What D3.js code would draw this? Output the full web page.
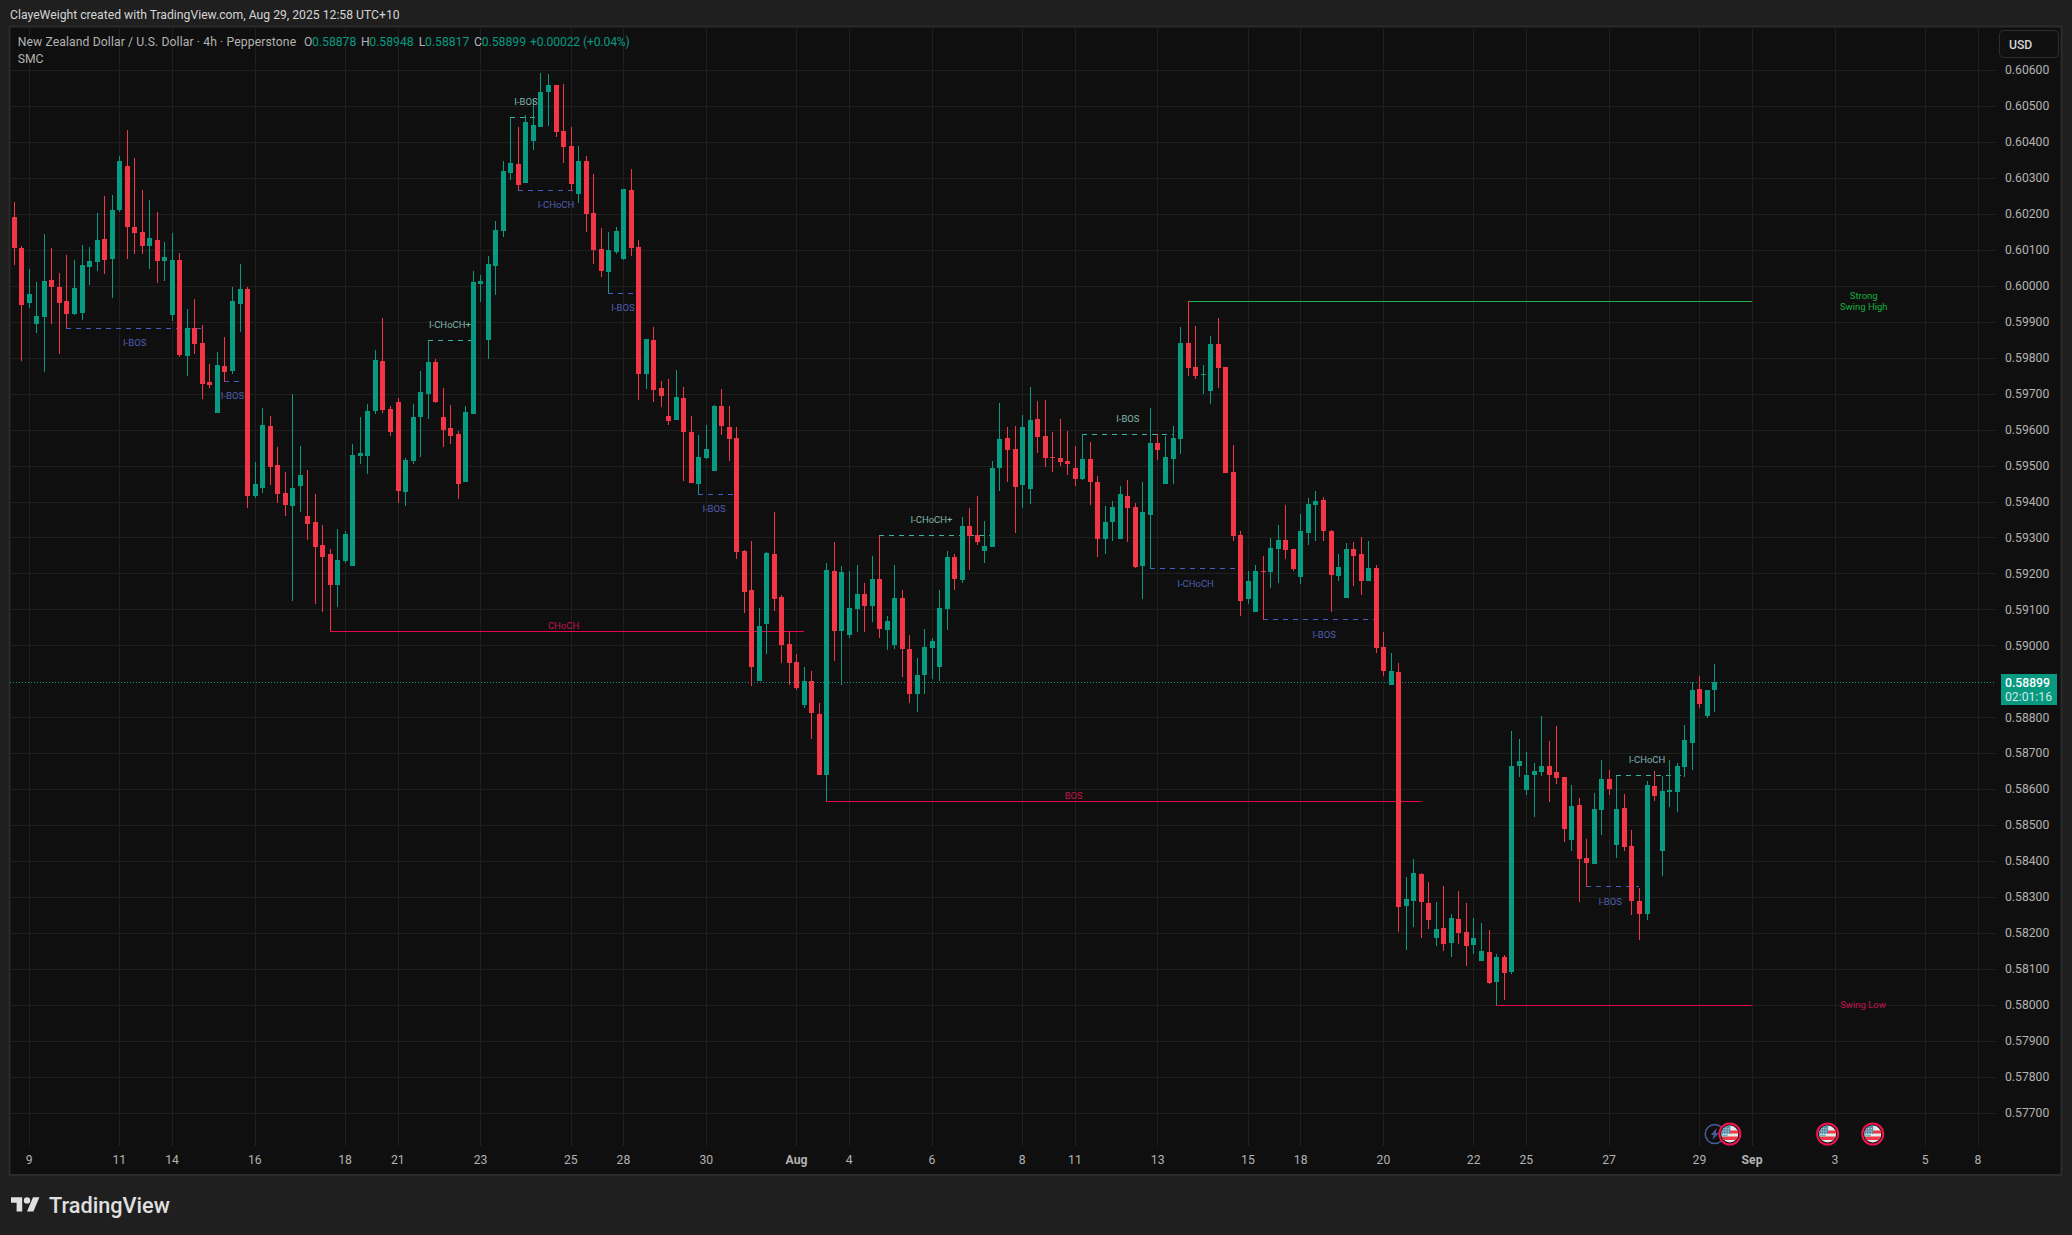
<!DOCTYPE html>
<html>
<head>
<meta charset="utf-8">
<script src="https://cdn.jsdelivr.net/npm/d3@7/dist/d3.min.js"></script>
<style>
html,body{margin:0;padding:0;background:#1f1f1f;}
svg{display:block;}
text{font-family:Roboto,"Noto Sans",sans-serif;}
</style>
</head>
<body>
<svg id="chart" width="2072" height="1235"></svg>
<script>
const opens=[.60193,.60106,.59954,.59895,.59915,.60018,.59998,.59959,.59923,.59926,.60054,.60068,.60132,.60076,.60212,.60334,.60165,.60151,.60112,.60129,.60070,.59920,.60073,.59807,.59884,.59843,.59734,.59648,.59779,.59765,.59951,.59993,.59418,.59440,.59612,.59504,.59426,.59390,.59445,.59362,.59345,.59281,.59254,.59170,.59237,.59223,.59529,.59529,.59654,.59793,.59659,.59679,.59429,.59515,.59637,.59701,.59790,.59637,.59606,.59590,.59456,.59645,.60007,.59851,.60056,.60154,.60315,.60340,.60287,.60404,.60443,.60540,.60559,.60432,.60390,.60257,.60348,.60204,.60104,.60040,.60095,.60076,.60268,.60109,.59757,.59851,.59718,.59640,.59629,.59690,.59595,.59451,.59523,.59487,.59668,.59609,.59579,.59265,.59156,.58903,.59062,.59256,.59137,.59006,.58956,.58834,.58901,.58809,.58642,.59209,.59040,.59029,.59101,.59145,.59112,.59187,.59045,.59001,.59134,.58990,.58867,.58920,.58995,.58940,.59103,.59248,.59184,.59334,.59309,.59265,.59276,.59495,.59579,.59548,.59448,.59437,.59632,.59584,.59526,.59523,.59515,.59495,.59465,.59520,.59456,.59298,.59345,.59298,.59418,.59387,.59223,.59365,.59565,.59451,.59520,.59576,.59843,.59776,.59754,.59709,.59840,.59776,.59484,.59309,.59129,.59095,.59209,.59204,.59270,.59295,.59270,.59192,.59315,.59393,.59406,.59320,.59195,.59134,.59270,.59254,.59181,.59217,.58998,.58890,.58926,.58276,.58290,.58365,.58284,.58187,.58215,.58173,.58240,.58204,.58167,.58123,.58148,.58065,.58134,.58092,.58665,.58598,.58642,.58648,.58665,.58648,.58634,.58459,.58556,.58409,.58392,.58542,.58629,.58445,.58548,.58442,.58290,.58254,.58609,.58429,.58592,.58592,.58662,.58731,.58881,.58806,.58878];
const highs=[.60234,.60112,.60048,.60012,.60145,.60106,.60036,.60087,.60073,.60115,.60109,.60204,.60251,.60254,.60362,.60434,.60356,.60268,.60240,.60206,.60123,.60148,.60093,.59937,.59965,.59893,.59784,.59818,.59859,.59998,.60062,.59998,.59512,.59662,.59640,.59554,.59484,.59701,.59557,.59490,.59423,.59337,.59270,.59326,.59320,.59562,.59637,.59673,.59823,.59912,.59668,.59690,.59523,.59673,.59765,.59849,.59798,.59718,.59670,.59598,.59668,.60043,.60031,.60084,.60181,.60348,.60469,.60443,.60476,.60522,.60593,.60590,.60559,.60562,.60443,.60390,.60362,.60312,.60162,.60151,.60165,.60270,.60326,.60129,.59854,.59887,.59737,.59743,.59768,.59720,.59640,.59587,.59615,.59670,.59715,.59668,.59609,.59267,.59292,.59106,.59262,.59373,.59140,.59041,.58978,.58942,.58929,.58840,.59229,.59290,.59223,.59209,.59226,.59176,.59251,.59306,.59084,.59226,.59156,.59031,.58965,.59048,.59023,.59154,.59265,.59254,.59359,.59384,.59418,.59348,.59515,.59676,.59609,.59612,.59643,.59720,.59682,.59684,.59595,.59632,.59598,.59557,.59589,.59568,.59473,.59390,.59404,.59445,.59462,.59397,.59456,.59662,.59589,.59584,.59612,.59887,.59959,.59890,.59782,.59862,.59912,.59776,.59559,.59320,.59209,.59226,.59251,.59301,.59337,.59393,.59270,.59368,.59412,.59431,.59415,.59323,.59256,.59287,.59290,.59303,.59292,.59226,.59037,.58981,.58953,.58356,.58406,.58367,.58342,.58287,.58331,.58255,.58317,.58284,.58242,.58229,.58209,.58142,.58140,.58762,.58742,.58704,.58673,.58806,.58734,.58776,.58634,.58612,.58576,.58462,.58590,.58681,.58654,.58639,.58587,.58487,.58326,.58623,.58651,.58637,.58681,.58673,.58781,.58898,.58917,.58878,.58948];
const lows=[.60059,.59793,.59940,.59870,.59762,.59895,.59812,.59883,.59920,.59906,.60004,.60043,.60034,.59968,.60206,.60076,.60090,.60090,.60048,.60009,.60015,.59904,.59804,.59751,.59812,.59687,.59718,.59648,.59735,.59757,.59873,.59384,.59412,.59426,.59448,.59398,.59362,.59126,.59373,.59295,.59117,.59095,.59041,.59109,.59229,.59223,.59506,.59479,.59645,.59648,.59584,.59398,.59390,.59506,.59526,.59632,.59676,.59554,.59562,.59409,.59456,.59645,.59956,.59798,.59976,.60137,.60295,.60267,.60287,.60379,.60443,.60445,.60415,.60343,.60265,.60232,.60151,.60062,.60026,.59981,.60090,.60073,.60084,.59684,.59715,.59679,.59665,.59615,.59629,.59459,.59454,.59422,.59520,.59487,.59587,.59515,.59242,.59090,.58887,.58903,.58976,.59098,.58953,.58892,.58878,.58826,.58742,.58640,.58567,.58959,.58892,.59023,.59037,.59037,.59065,.59023,.58987,.58990,.58912,.58840,.58815,.58865,.58909,.58903,.59045,.59154,.59176,.59212,.59281,.59229,.59276,.59431,.59456,.59315,.59384,.59395,.59537,.59498,.59484,.59501,.59476,.59445,.59462,.59393,.59248,.59256,.59292,.59298,.59290,.59217,.59129,.59214,.59518,.59451,.59451,.59534,.59751,.59743,.59701,.59673,.59718,.59482,.59292,.59084,.59115,.59095,.59072,.59162,.59176,.59242,.59209,.59173,.59281,.59292,.59292,.59095,.59179,.59134,.59165,.59142,.59181,.58981,.58915,.58890,.58204,.58154,.58217,.58187,.58212,.58165,.58151,.58134,.58170,.58109,.58142,.58123,.58059,.58000,.58015,.58087,.58634,.58584,.58523,.58637,.58565,.58615,.58454,.58429,.58287,.58330,.58392,.58473,.58584,.58409,.58429,.58251,.58181,.58237,.58567,.58359,.58551,.58537,.58634,.58654,.58826,.58798,.58817];
const closes=[.60106,.59948,.59979,.59918,.60015,.59998,.59954,.59923,.59995,.60059,.60070,.60129,.60073,.60212,.60348,.60165,.60148,.60112,.60134,.60070,.60081,.60073,.59809,.59884,.59840,.59729,.59726,.59782,.59762,.59959,.59993,.59418,.59451,.59615,.59498,.59423,.59393,.59440,.59476,.59340,.59276,.59248,.59170,.59240,.59312,.59532,.59537,.59654,.59795,.59657,.59595,.59431,.59518,.59637,.59706,.59790,.59679,.59601,.59584,.59451,.59651,.60012,.60015,.60062,.60156,.60320,.60343,.60281,.60456,.60448,.60540,.60559,.60429,.60387,.60284,.60348,.60201,.60101,.60043,.60101,.60154,.60270,.60106,.59757,.59854,.59712,.59695,.59626,.59693,.59595,.59454,.59526,.59548,.59668,.59612,.59576,.59262,.59151,.58942,.59056,.59259,.59131,.59003,.58953,.58884,.58901,.58812,.58642,.59212,.59040,.59204,.59106,.59145,.59112,.59187,.59048,.59070,.59134,.58990,.58865,.58920,.58998,.59012,.59106,.59248,.59187,.59332,.59306,.59290,.59278,.59495,.59576,.59545,.59443,.59609,.59629,.59582,.59523,.59523,.59512,.59506,.59465,.59520,.59456,.59298,.59345,.59387,.59423,.59384,.59220,.59373,.59565,.59545,.59526,.59579,.59843,.59773,.59751,.59757,.59840,.59773,.59482,.59306,.59126,.59179,.59209,.59206,.59273,.59295,.59267,.59215,.59320,.59395,.59404,.59318,.59198,.59220,.59270,.59251,.59179,.59217,.58995,.58929,.58929,.58273,.58295,.58367,.58287,.58237,.58212,.58170,.58242,.58201,.58165,.58187,.58151,.58062,.58134,.58090,.58667,.58679,.58642,.58651,.58667,.58642,.58631,.58490,.58554,.58406,.58395,.58545,.58629,.58601,.58545,.58440,.58290,.58254,.58612,.58581,.58595,.58598,.58665,.58737,.58878,.58837,.58878,.58899];

const priceTicks=[.606,.605,.604,.603,.602,.601,.6,.599,.598,.597,.596,.595,.594,.593,.592,.591,.59,.588,.587,.586,.585,.584,.583,.582,.581,.58,.579,.578,.577];
const timeTickBars=[2,14,21,32,44,51,62,74,81,92,104,111,122,134,141,152,164,171,182,194,201,212,224,231,242,254,261];
const timeTickLabels=["9","11","14","16","18","21","23","25","28","30","Aug","4","6","8","11","13","15","18","20","22","25","27","29","Sep","3","5","8"];
const monthLabels=["Aug","Sep"];

const structKinds=["minorBear","minorBear","minorBull","minorBull","minorBear","minorBear","minorBear","majorBear","majorBear","minorBull","minorBull","minorBear","minorBear","minorBear","minorBull"];
const structLabels=["I-BOS","I-BOS","I-CHoCH+","I-BOS","I-CHoCH","I-BOS","I-BOS","CHoCH","BOS","I-CHoCH+","I-BOS","I-CHoCH","I-BOS","I-BOS","I-CHoCH"];
const structStart=[7,28,55,66,67,79,91,42,108,115,142,151,166,209,213];
const structEnd=[25,30,61,70,75,83,96,105,187,130,154,163,181,216,222];
const structPrice=[.59883,.59736,.59849,.60469,.60267,.59981,.59422,.59041,.58567,.59306,.59589,.59214,.59072,.58330,.58639];
const structLabelBar=[16,29,57.9,68,72,80.9,93,73,140.8,121.9,148,157,174.1,212.1,217];

const swingLabels=["Strong\nSwing High","Swing Low"];
const swingStart=[156,197];
const swingEnd=[231,231];
const swingPrice=[.59959,.58000];
const swingLabelBar=[245.8,245.7];

const lastPrice=.58899;
const countdown="02:01:16";
const flagEventBars=[228,241,247];
const speechEventBars=[226];

const titleText="ClayeWeight created with TradingView.com, Aug 29, 2025 12:58 UTC+10";
const symbolText="New Zealand Dollar / U.S. Dollar · 4h · Pepperstone";
const ohlcKeys=["O","H","L","C"];
const ohlcValues=["0.58878","0.58948","0.58817","0.58899"];
const changeText="+0.00022 (+0.04%)";
const indicatorText="SMC";

const UP="#089981",DOWN="#f23645",GRID="#1f1f1f";
const kindStyle={
  minorBull:{line:"#3bb3a3",text:"#7fb3ad",dash:"5 5",dir:-1},
  minorBear:{line:"#4a5cc0",text:"#4f5eb0",dash:"5 5",dir:1},
  majorBear:{line:"#ea0350",text:"#c2134f",dash:null,dir:-1}
};

const svg=d3.select("#chart");
svg.append("rect").attr("width",2072).attr("height",1235).attr("fill","#1f1f1f");
svg.append("rect").attr("x",9.5).attr("y",26.5).attr("width",2052).attr("height",1148.5).attr("fill","#0f0f0f").attr("stroke","#2b2b2b").attr("stroke-width",2);

const x=d3.scaleLinear().domain([0,261]).range([14.3,1978.1]);
const y=d3.scaleLinear().domain([.606,.58]).range([70.6,1005.3]);
const px=i=>Math.floor(x(i));
const py=p=>Math.floor(y(p));
const bars=d3.range(opens.length);

// grid
const g=svg.append("g");
g.selectAll("rect.h").data(priceTicks).join("rect").attr("class","h")
  .attr("x",11).attr("width",1985).attr("y",py).attr("height",1).attr("fill",GRID);
g.selectAll("rect.v").data(timeTickBars).join("rect").attr("class","v")
  .attr("x",px).attr("width",1).attr("y",28).attr("height",1118).attr("fill",GRID);

// last price line
svg.append("line").attr("x1",10).attr("x2",1996).attr("y1",py(lastPrice)+.5).attr("y2",py(lastPrice)+.5)
  .attr("stroke",UP).attr("stroke-dasharray","1 2");

// structure lines
const structs=bars.slice(0,structKinds.length);
svg.append("g").attr("shape-rendering","crispEdges").selectAll("line").data(structs).join("line")
  .attr("x1",i=>px(structStart[i])).attr("x2",i=>px(structEnd[i]))
  .attr("y1",i=>py(structPrice[i])+.5).attr("y2",i=>py(structPrice[i])+.5)
  .attr("stroke",i=>kindStyle[structKinds[i]].line)
  .attr("stroke-dasharray",i=>kindStyle[structKinds[i]].dash);
svg.append("g").attr("shape-rendering","crispEdges").selectAll("line").data([0,1]).join("line")
  .attr("x1",i=>px(swingStart[i])).attr("x2",i=>px(swingEnd[i]))
  .attr("y1",i=>py(swingPrice[i])+.5).attr("y2",i=>py(swingPrice[i])+.5)
  .attr("stroke",i=>i?"#ea0350":"#22b14c");

// candles
const cg=svg.append("g").attr("shape-rendering","crispEdges");
cg.selectAll("rect.wick").data(bars).join("rect").attr("class","wick")
  .attr("x",px).attr("width",1)
  .attr("y",i=>Math.round(y(highs[i])))
  .attr("height",i=>Math.max(1,Math.round(y(lows[i]))-Math.round(y(highs[i]))))
  .attr("fill",i=>closes[i]>=opens[i]?UP:DOWN);
cg.selectAll("rect.body").data(bars).join("rect").attr("class","body")
  .attr("x",i=>px(i)-2).attr("width",5)
  .attr("y",i=>Math.round(y(Math.max(opens[i],closes[i]))))
  .attr("height",i=>Math.max(1,Math.round(y(Math.min(opens[i],closes[i])))-Math.round(y(Math.max(opens[i],closes[i])))))
  .attr("fill",i=>closes[i]>=opens[i]?UP:DOWN);

// structure labels
svg.append("g").selectAll("text").data(structs).join("text")
  .attr("x",i=>x(structLabelBar[i]))
  .attr("y",i=>{const k=kindStyle[structKinds[i]];const off=structKinds[i]=="majorBear"?-5.6:(k.dir>0?14.8:-15.8);return y(structPrice[i])+off;})
  .attr("dy","0.35em").attr("text-anchor","middle").attr("font-size",9.5)
  .attr("fill",i=>kindStyle[structKinds[i]].text)
  .text(i=>structLabels[i]);

// swing labels
const sw=svg.append("g").selectAll("text").data([0,1]).join("text")
  .attr("text-anchor","middle").attr("font-size",9.5)
  .attr("fill",i=>i?"#c2134f":"#17b03c")
  .attr("y",i=>y(swingPrice[i])-(i?.6:0));
sw.each(function(i){
  const lines=swingLabels[i].split("\n");
  d3.select(this).selectAll("tspan").data(lines).join("tspan")
    .attr("x",x(swingLabelBar[i]))
    .attr("dy",(d,j)=>j==0?((-(lines.length-1)*.55+.35)+"em"):"1.15em")
    .text(d=>d);
});

// price axis
const ya=svg.append("g").attr("transform","translate(2005,-0.6)")
  .call(d3.axisRight(y).tickValues(priceTicks).tickFormat(d3.format(".5f")).tickSize(0).tickPadding(0));
ya.select(".domain").remove();
ya.selectAll("text").attr("fill","#b2b2b2").attr("font-size",12.2).style("font-family","Roboto,sans-serif");

// time axis
const xa=svg.append("g").attr("transform","translate(-0.8,1155)")
  .call(d3.axisBottom(x).tickValues(timeTickBars).tickFormat((d,i)=>timeTickLabels[i]).tickSize(0).tickPadding(0));
xa.select(".domain").remove();
xa.selectAll("text").attr("fill","#b2b2b2").attr("font-size",12.2).style("font-family","Roboto,sans-serif")
  .attr("font-weight",d=>monthLabels.includes(timeTickLabels[timeTickBars.indexOf(d)])?"700":"400");

// USD box
svg.append("rect").attr("x",1999.5).attr("y",30.5).attr("width",59).attr("height",27).attr("rx",4)
  .attr("fill","#101010").attr("stroke","#2e2e2e");
svg.append("text").attr("x",2009).attr("y",44.5).attr("dy","0.35em").attr("fill","#d6d6d6").attr("font-size",12.2).attr("font-weight",500).text("USD");

// last price badge
svg.append("rect").attr("x",2001).attr("y",674).attr("width",56).attr("height",31).attr("fill",UP);
svg.append("text").attr("x",2005).attr("y",682.5).attr("dy","0.35em").attr("fill","#fff").attr("font-size",12.2).attr("font-weight",500).text(d3.format(".5f")(lastPrice));
svg.append("text").attr("x",2005).attr("y",696.5).attr("dy","0.35em").attr("fill","#cfe9e3").attr("font-size",12.2).text(countdown);

// legend
svg.append("text").attr("x",10).attr("y",15).attr("dy","0.35em").attr("fill","#d4d4d4").attr("font-size",12.2).text(titleText);
svg.append("text").attr("x",17.7).attr("y",42).attr("dy","0.35em").attr("fill","#b2b2b2").attr("font-size",12.2).attr("letter-spacing",.1).text(symbolText);
const ohlcX=[304,361,418.7,474];
const valX=[312,369.3,425,481.7];
ohlcKeys.forEach((k,i)=>{
  svg.append("text").attr("x",ohlcX[i]).attr("y",42).attr("dy","0.35em").attr("fill","#b2b2b2").attr("font-size",12.2).text(k);
  svg.append("text").attr("x",valX[i]).attr("y",42).attr("dy","0.35em").attr("fill",UP).attr("font-size",12.2).text(ohlcValues[i]);
});
svg.append("text").attr("x",530).attr("y",42).attr("dy","0.35em").attr("fill",UP).attr("font-size",12.2).attr("letter-spacing",-.15).text(changeText);
svg.append("text").attr("x",17.7).attr("y",59).attr("dy","0.35em").attr("fill","#b2b2b2").attr("font-size",12.2).text(indicatorText);

// events
const defs=svg.append("defs");
defs.append("clipPath").attr("id","flagClip").append("circle").attr("r",8.5);
const cy=1134;
speechEventBars.forEach(b=>{
  const e=svg.append("g").attr("transform",`translate(${x(b)},${cy})`);
  e.append("circle").attr("r",9.5).attr("fill","#0f0f0f").attr("stroke","#4a5a9a").attr("stroke-width",1.5);
  e.append("path").attr("d","M2 -6 L-4 1 L-1 1 L-2 6 L4 -1 L1 -1 Z").attr("fill","#4a5a9a");
});
flagEventBars.forEach(b=>{
  const e=svg.append("g").attr("transform",`translate(${x(b)},${cy})`);
  e.append("circle").attr("r",10.5).attr("fill","#0f0f0f").attr("stroke","#f0144f").attr("stroke-width",2);
  const f=e.append("g").attr("clip-path","url(#flagClip)");
  f.append("rect").attr("x",-9).attr("y",-9).attr("width",18).attr("height",18).attr("fill","#e8e8e8");
  f.append("rect").attr("x",0).attr("y",-3.5).attr("width",9).attr("height",3).attr("fill","#f23645");
  f.append("rect").attr("x",-9).attr("y",2.5).attr("width",18).attr("height",3.5).attr("fill","#f23645");
  f.append("rect").attr("x",-9).attr("y",-9).attr("width",9.5).attr("height",9).attr("fill","#5b8fa8");
  f.append("rect").attr("x",-9).attr("y",.5).attr("width",7).attr("height",2).attr("fill","#6fb3b3");
  d3.range(-7,0,2.5).forEach(a=>d3.range(-6,0,2.5).forEach(b2=>f.append("rect").attr("x",a).attr("y",b2).attr("width",1).attr("height",1).attr("fill","#d5e3ea")));
});

// logo
const logo=svg.append("g").attr("transform","translate(11,1194) scale(.8)").attr("fill","#e0e0e0");
logo.append("path").attr("d","M14 22H7V11H0V4h14v18zM28 22h-8l7.5-18h8L28 22z");
logo.append("circle").attr("cx",20).attr("cy",8).attr("r",4);
svg.append("text").attr("x",49).attr("y",1205).attr("dy","0.35em").attr("fill","#e0e0e0").attr("font-size",21.7).attr("font-weight",500).text("TradingView");
</script>
</body>
</html>
